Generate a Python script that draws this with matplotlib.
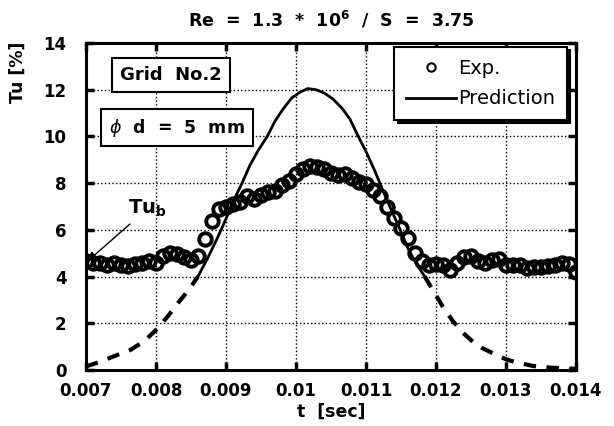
import numpy as np
import matplotlib
matplotlib.use("Agg")
import matplotlib.pyplot as plt

# measured turbulence intensity, sampled every 0.1 ms from 0.007 s to 0.014 s
exp_t = np.linspace(0.007, 0.014, 71)
exp_tu = [4.65, 4.60, 4.58, 4.50, 4.60, 4.50, 4.45, 4.55, 4.60, 4.65,
          4.60, 4.90, 5.00, 4.95, 4.85, 4.72, 4.90, 5.60, 6.40, 6.90,
          7.00, 7.10, 7.20, 7.45, 7.30, 7.50, 7.60, 7.65, 7.90, 8.10,
          8.40, 8.60, 8.75, 8.70, 8.60, 8.45, 8.35, 8.40, 8.20, 8.05,
          7.95, 7.70, 7.45, 7.00, 6.50, 6.10, 5.65, 5.00, 4.65, 4.50,
          4.55, 4.50, 4.30, 4.60, 4.85, 4.90, 4.65, 4.60, 4.70, 4.75,
          4.50, 4.50, 4.50, 4.35, 4.40, 4.40, 4.45, 4.50, 4.60, 4.55,
          4.20]

# prediction (solid part) and its tails below Tu_b (dashed)
pred_t = [0.00860, 0.00874, 0.00887, 0.00899, 0.00910, 0.00923, 0.00934,
          0.00946, 0.00959, 0.00970, 0.00981, 0.00994, 0.01006, 0.01017,
          0.01029, 0.01041, 0.01053, 0.01066, 0.01077, 0.01089, 0.01101,
          0.01113, 0.01124, 0.01137, 0.01149, 0.01160, 0.01173, 0.01184]
pred_tu = [4.0, 4.8, 5.6, 6.4, 7.2, 8.0, 8.75, 9.4, 10.0, 10.65, 11.15,
           11.65, 11.9, 12.05, 12.0, 11.85, 11.6, 11.2, 10.75, 10.0, 9.3,
           8.5, 7.7, 6.8, 6.0, 5.2, 4.5, 4.0]
tail_left_t = [0.00700, 0.00720, 0.00741, 0.00763, 0.00784, 0.00803,
               0.00817, 0.00831, 0.00846, 0.00860]
tail_left_tu = [0.15, 0.35, 0.6, 0.85, 1.25, 1.8, 2.3, 2.85, 3.4, 4.0]
tail_right_t = [0.01184, 0.01196, 0.01210, 0.01224, 0.01239, 0.01253,
                0.01266, 0.01277, 0.01289, 0.01301, 0.01313, 0.01339,
                0.01363, 0.01400]
tail_right_tu = [4.0, 3.4, 2.7, 2.1, 1.58, 1.2, 0.94, 0.78, 0.6, 0.45,
                 0.34, 0.17, 0.1, 0.05]

xticks = [0.007, 0.008, 0.009, 0.010, 0.011, 0.012, 0.013, 0.014]
xtick_labels = ['0.007', '0.008', '0.009', '0.01', '0.011', '0.012',
                '0.013', '0.014']
yticks = [0, 2, 4, 6, 8, 10, 12, 14]

plt.rcParams['font.family'] = 'DejaVu Sans'

fig = plt.figure(figsize=(6.14, 4.26), dpi=100)
ax = fig.add_axes([0.140, 0.1315, 0.798, 0.7675])

ax.plot(exp_t, exp_tu, 'o', ms=9, mfc='none', mec='black', mew=2.8,
        label='Exp.', zorder=3)
ax.plot(pred_t, pred_tu, '-', color='black', lw=2.0, label='Prediction',
        zorder=4)
ax.plot(tail_left_t, tail_left_tu, '--', color='black', lw=3,
        dashes=(3, 2.5), zorder=4)
ax.plot(tail_right_t, tail_right_tu, '--', color='black', lw=3,
        dashes=(3, 2.5), zorder=4)

ax.set_xlim(0.007, 0.014)
ax.set_ylim(0, 14)
ax.set_xticks(xticks)
ax.set_xticklabels(xtick_labels, fontweight='bold', fontsize=12)
ax.set_yticks(yticks)
ax.set_yticklabels([str(v) for v in yticks], fontweight='bold', fontsize=12)
ax.tick_params(direction='in', length=6, width=2.5, top=True, right=True)
ax.tick_params(axis='x', pad=9)
ax.tick_params(axis='y', pad=14)
ax.grid(True, color='black', linestyle=':', linewidth=1.0)
for sp in ax.spines.values():
    sp.set_linewidth(2.2)

leg = ax.legend(loc='upper right', bbox_to_anchor=(0.9816, 0.9878),
                fontsize=14, handlelength=2.6, frameon=True, fancybox=False,
                borderpad=0.6, labelspacing=0.6, handletextpad=0.1,
                borderaxespad=0,
                shadow={'color': 'black', 'alpha': 1.0, 'ox': 2.5, 'oy': -2.5})
leg.get_frame().set_edgecolor('black')
leg.get_frame().set_linewidth(1.5)
for h in leg.legend_handles:
    if h.get_marker() == 'o':
        h.set_markersize(6)
        h.set_markeredgewidth(1.5)

box = dict(boxstyle='square,pad=0.45', fc='white', ec='black', lw=1.5)
ax.text(0.00822, 12.63, 'Grid  No.2', fontsize=13, fontweight='bold',
        ha='center', va='center', bbox=box, zorder=6)
ax.text(0.0083, 10.38, '$\\phi$  d  =  5  mm', fontsize=12.5,
        fontweight='bold', ha='center', va='center', bbox=box, zorder=6)

ax.annotate('Tu$_{\\mathbf{b}}$', xy=(0.00702, 4.65), xytext=(0.0076, 6.9),
            fontsize=14, fontweight='bold', ha='left', va='center',
            arrowprops=dict(arrowstyle='-|>', color='black', lw=1.0,
                            shrinkA=2, shrinkB=0), zorder=6)

fig.text(331 / 614, 1 - 20 / 426,
         'Re  =  1.3  *  10$^{\\mathbf{6}}$  /  S  =  3.75',
         fontsize=12.5, fontweight='bold', ha='center', va='center')
fig.text(331 / 614, 1 - 412 / 426, 't  [sec]', fontsize=12.5,
         fontweight='bold', ha='center', va='center')
fig.text(18 / 614, 1 - 72 / 426, 'Tu [%]', fontsize=12.5, fontweight='bold',
         ha='center', va='center', rotation=90)

fig.savefig('out.png', dpi=100)
